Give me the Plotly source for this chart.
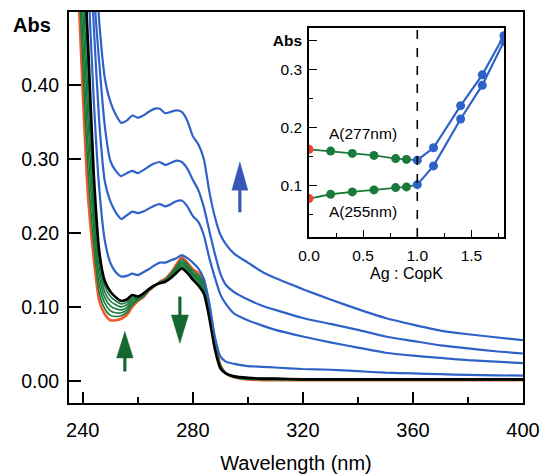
import plotly.graph_objects as go

# ---------------- main spectra ----------------
WL = [236, 238, 240, 242, 244, 246, 248, 250, 252, 254, 256, 258, 260, 262, 264, 266, 268, 270,
      272, 274, 276, 278, 280, 282, 284, 286, 288, 290, 292, 295, 300, 305, 310, 320, 330, 340,
      350, 360, 370, 380, 390, 400]

ABS_ORANGE = [0.85, 0.57, 0.39, 0.245, 0.165, 0.108, 0.090, 0.082, 0.082, 0.084, 0.089, 0.100, 0.108,
              0.113, 0.122, 0.128, 0.134, 0.138, 0.146, 0.157, 0.167, 0.160, 0.151, 0.146, 0.136,
              0.100, 0.055, 0.022, 0.010, 0.005, 0.002, 0.001, 0.001, 0.001, 0.001, 0.001, 0.001,
              0.001, 0.001, 0.001, 0.001, 0.001]
ABS_G1 = [0.875, 0.605, 0.427, 0.279, 0.184, 0.119, 0.0975, 0.0885, 0.087, 0.088, 0.0925, 0.1027,
          0.109, 0.114, 0.122, 0.128, 0.1337, 0.137, 0.145, 0.155, 0.1645, 0.158, 0.149, 0.143,
          0.133, 0.0975, 0.053, 0.021, 0.010, 0.005, 0.002, 0.002, 0.002, 0.001, 0.001, 0.001,
          0.001, 0.001, 0.001, 0.001, 0.001, 0.001]
ABS_G2 = [0.90, 0.64, 0.463, 0.313, 0.203, 0.130, 0.105, 0.095, 0.092, 0.092, 0.096, 0.1053,
          0.110, 0.115, 0.123, 0.128, 0.1333, 0.137, 0.144, 0.153, 0.162, 0.155, 0.146, 0.140,
          0.130, 0.095, 0.051, 0.020, 0.010, 0.005, 0.003, 0.002, 0.002, 0.002, 0.002, 0.002,
          0.002, 0.002, 0.002, 0.002, 0.002, 0.002]
ABS_G3 = [0.925, 0.675, 0.50, 0.348, 0.223, 0.142, 0.1125, 0.1015, 0.0975, 0.096, 0.0995, 0.108,
          0.111, 0.1155, 0.123, 0.1285, 0.133, 0.136, 0.1425, 0.1515, 0.1595, 0.153, 0.144, 0.1375,
          0.127, 0.0925, 0.049, 0.0195, 0.010, 0.0055, 0.003, 0.002, 0.002, 0.002, 0.002, 0.002,
          0.002, 0.002, 0.002, 0.002, 0.002, 0.002]
ABS_G4 = [0.95, 0.71, 0.537, 0.382, 0.242, 0.153, 0.120, 0.108, 0.103, 0.100, 0.103, 0.1107,
          0.112, 0.116, 0.123, 0.129, 0.1327, 0.135, 0.141, 0.150, 0.157, 0.151, 0.142, 0.135,
          0.124, 0.090, 0.047, 0.019, 0.010, 0.006, 0.003, 0.003, 0.002, 0.002, 0.002, 0.002,
          0.002, 0.002, 0.002, 0.002, 0.002, 0.002]
ABS_G5 = [0.975, 0.745, 0.573, 0.416, 0.261, 0.164, 0.1275, 0.1145, 0.108, 0.104, 0.1065, 0.1133,
          0.113, 0.117, 0.124, 0.129, 0.1323, 0.135, 0.140, 0.148, 0.1545, 0.148, 0.139, 0.132,
          0.121, 0.0875, 0.045, 0.018, 0.010, 0.006, 0.004, 0.003, 0.003, 0.002, 0.002, 0.002,
          0.002, 0.002, 0.002, 0.002, 0.002, 0.002]
ABS_BLACK = [1.0, 0.78, 0.61, 0.45, 0.28, 0.175, 0.135, 0.121, 0.113, 0.108, 0.110, 0.116, 0.114,
             0.118, 0.124, 0.129, 0.132, 0.134, 0.139, 0.146, 0.152, 0.146, 0.137, 0.129, 0.118,
             0.085, 0.043, 0.017, 0.010, 0.006, 0.004, 0.003, 0.003, 0.002, 0.002, 0.002, 0.002,
             0.002, 0.002, 0.002, 0.002, 0.002]
ABS_B1 = [1.0, 0.90, 0.72, 0.54, 0.38, 0.26, 0.19, 0.160, 0.147, 0.141, 0.142, 0.145, 0.143, 0.147,
          0.151, 0.156, 0.160, 0.160, 0.163, 0.166, 0.170, 0.166, 0.160, 0.152, 0.138, 0.105,
          0.060, 0.033, 0.026, 0.023, 0.020, 0.019, 0.018, 0.016, 0.015, 0.013, 0.011, 0.010,
          0.009, 0.008, 0.0075, 0.007]
ABS_B2 = [1.0, 0.95, 0.80, 0.63, 0.48, 0.35, 0.27, 0.243, 0.228, 0.219, 0.224, 0.229, 0.227, 0.229,
          0.233, 0.237, 0.239, 0.236, 0.239, 0.243, 0.244, 0.236, 0.223, 0.215, 0.197, 0.166,
          0.140, 0.117, 0.104, 0.091, 0.082, 0.075, 0.069, 0.060, 0.052, 0.045, 0.038, 0.034,
          0.031, 0.028, 0.026, 0.024]
ABS_B3 = [1.0, 0.95, 0.85, 0.70, 0.53, 0.43, 0.345, 0.298, 0.284, 0.277, 0.281, 0.284, 0.281, 0.285,
          0.290, 0.294, 0.296, 0.292, 0.295, 0.298, 0.296, 0.287, 0.272, 0.258, 0.235, 0.203,
          0.172, 0.145, 0.130, 0.120, 0.110, 0.102, 0.096, 0.085, 0.077, 0.069, 0.060, 0.054,
          0.048, 0.044, 0.040, 0.037]
ABS_B4 = [1.0, 1.0, 0.90, 0.75, 0.60, 0.485, 0.41, 0.378, 0.360, 0.349, 0.352, 0.359, 0.356, 0.359,
          0.364, 0.368, 0.368, 0.362, 0.364, 0.366, 0.364, 0.352, 0.331, 0.320, 0.300, 0.256,
          0.222, 0.198, 0.185, 0.172, 0.160, 0.148, 0.139, 0.124, 0.110, 0.097, 0.085, 0.076,
          0.068, 0.063, 0.059, 0.055]

# ---------------- inset titration ----------------
RATIO = [0.0, 0.2, 0.4, 0.6, 0.8, 0.9, 1.0, 1.15, 1.4, 1.6, 1.8]
A277 = [0.163, 0.160, 0.156, 0.1525, 0.147, 0.1456, 0.1444, 0.1657, 0.2383, 0.2914, 0.3588]
A255 = [0.0782, 0.0856, 0.0896, 0.0931, 0.0971, 0.0983, 0.1022, 0.1345, 0.2153, 0.2735, 0.349]

MAIN_XTICKS = [240, 280, 320, 360, 400]
MAIN_XMINOR = [260, 300, 340, 380]
MAIN_YTICKS = [0.0, 0.1, 0.2, 0.3, 0.4]
INSET_XTICKS = [0.0, 0.5, 1.0, 1.5]
INSET_XLABELS = ["0.0", "0.5", "1.0", "1.5"]
INSET_XMINOR = [0.25, 0.75, 1.25, 1.75]
INSET_YTICKS = [0.1, 0.2, 0.3, 0.35]
INSET_YLABELS = ["0.1", "0.2", "0.3", "<b>Abs</b>"]
INSET_YMINOR = [0.05, 0.15, 0.25]

BLUE = "#2f62c8"
GREEN = "#1a7a3c"
ORANGE = "#ef5a2f"
RED = "#f2402a"
FONT = "Liberation Sans, Arial, Helvetica, sans-serif"

fig = go.Figure()

SPL = dict(shape="spline", smoothing=0.6)
fig.add_trace(go.Scatter(x=WL, y=ABS_ORANGE, mode="lines",
                         line=dict(color=ORANGE, width=2.6, **SPL), hoverinfo="skip"))
for g in [ABS_G1, ABS_G2, ABS_G3, ABS_G4, ABS_G5]:
    fig.add_trace(go.Scatter(x=WL, y=g, mode="lines",
                             line=dict(color=GREEN, width=1.6, **SPL), hoverinfo="skip"))
fig.add_trace(go.Scatter(x=WL, y=ABS_BLACK, mode="lines",
                         line=dict(color="black", width=2.6, **SPL), hoverinfo="skip"))
for b in [ABS_B1, ABS_B2, ABS_B3, ABS_B4]:
    fig.add_trace(go.Scatter(x=WL, y=b, mode="lines",
                             line=dict(color=BLUE, width=2.2, **SPL), hoverinfo="skip"))

# inset lines
k = RATIO.index(1.0)
for ys in [A277, A255]:
    fig.add_trace(go.Scatter(x=RATIO[:k + 1], y=ys[:k + 1], mode="lines",
                             line=dict(color=GREEN, width=1.8), xaxis="x2", yaxis="y2"))
    fig.add_trace(go.Scatter(x=RATIO[k:], y=ys[k:], mode="lines",
                             line=dict(color=BLUE, width=2.2), xaxis="x2", yaxis="y2"))
    fig.add_trace(go.Scatter(x=RATIO[1:k], y=ys[1:k], mode="markers",
                             marker=dict(color=GREEN, size=9), xaxis="x2", yaxis="y2"))
    fig.add_trace(go.Scatter(x=RATIO[k:], y=ys[k:], mode="markers",
                             marker=dict(color=BLUE, size=9), xaxis="x2", yaxis="y2"))
    fig.add_trace(go.Scatter(x=RATIO[:1], y=ys[:1], mode="markers",
                             marker=dict(color=RED, size=9), xaxis="x2", yaxis="y2"))

shapes = []
# dashed line at 1:1 in inset
shapes.append(dict(type="line", xref="x2", yref="paper", x0=1.0, x1=1.0,
                   y0=0.4246, y1=0.959, line=dict(color="black", width=1.6, dash="dash")))

# arrows: (x, tail, head base, tip, half width, color)
ARROWS = [(297.1, 0.228, 0.258, 0.296, 2.9, "#3457b8"),
          (255.3, 0.0126, 0.031, 0.0667, 3.0, "#15672f"),
          (275.3, 0.114, 0.089, 0.051, 3.1, "#15672f")]
for x, tail, base, tip, hw, col in ARROWS:
    shapes.append(dict(type="line", xref="x", yref="y", x0=x, x1=x, y0=tail, y1=base,
                       line=dict(color=col, width=3.2)))
    shapes.append(dict(type="path", xref="x", yref="y",
                       path=f"M {x - hw},{base} L {x + hw},{base} L {x},{tip} Z",
                       fillcolor=col, line=dict(color=col, width=0.5)))

annotations = [
    dict(text="<b>Abs</b>", xref="paper", yref="paper", x=-0.082, y=0.966,
         showarrow=False, font=dict(size=20, color="black", family=FONT), xanchor="center", yanchor="middle"),
    dict(text="A(277nm)", xref="x2", yref="y2", x=0.50, y=0.190, showarrow=False,
         font=dict(size=15.5, color="black", family=FONT), xanchor="center", yanchor="middle"),
    dict(text="A(255nm)", xref="x2", yref="y2", x=0.50, y=0.056, showarrow=False,
         font=dict(size=15.5, color="black", family=FONT), xanchor="center", yanchor="middle"),
]

axis_common = dict(showline=True, linecolor="black", mirror=True, showgrid=False,
                   zeroline=False, ticks="inside", tickcolor="black", automargin=False)

fig.update_layout(
    width=540, height=474,
    margin=dict(l=69, r=17, t=12, b=71, autoexpand=False),
    paper_bgcolor="white", plot_bgcolor="white",
    showlegend=False,
    font=dict(family=FONT, color="black"),
    shapes=shapes, annotations=annotations,
    xaxis=dict(range=[235, 400], domain=[0, 1], tickvals=MAIN_XTICKS,
               ticklen=11, tickwidth=1.6, linewidth=2,
               minor=dict(tickvals=MAIN_XMINOR, ticklen=6, tickwidth=1.6, ticks="inside", tickcolor="black"),
               tickfont=dict(size=20), ticklabelstandoff=8,
               title=dict(text="Wavelength (nm)", font=dict(size=20), standoff=18),
               **axis_common),
    yaxis=dict(range=[-0.03, 0.499], domain=[0, 1], tickvals=MAIN_YTICKS, tickformat=".2f",
               ticklen=12, tickwidth=1.6, linewidth=2, tickfont=dict(size=19.5),
               ticklabelstandoff=4, **axis_common),
    xaxis2=dict(range=[0, 1.8], domain=[0.5286, 0.958], anchor="y2",
                tickvals=INSET_XTICKS, ticktext=INSET_XLABELS, ticklen=7, tickwidth=1.3,
                linewidth=1.5, tickfont=dict(size=15.5), ticklabelstandoff=4,
                minor=dict(tickvals=INSET_XMINOR, ticklen=4, tickwidth=1.3, ticks="inside", tickcolor="black"),
                title=dict(text="Ag : CopK", font=dict(size=16), standoff=4),
                **axis_common),
    yaxis2=dict(range=[0.012, 0.372], domain=[0.4246, 0.959], anchor="x2",
                tickvals=INSET_YTICKS, ticktext=INSET_YLABELS, ticklen=8, tickwidth=1.3,
                linewidth=1.5, tickfont=dict(size=15.5), ticklabelstandoff=2,
                minor=dict(tickvals=INSET_YMINOR, ticklen=4, tickwidth=1.3, ticks="inside", tickcolor="black"),
                **axis_common),
)

fig.write_html("out.html")
